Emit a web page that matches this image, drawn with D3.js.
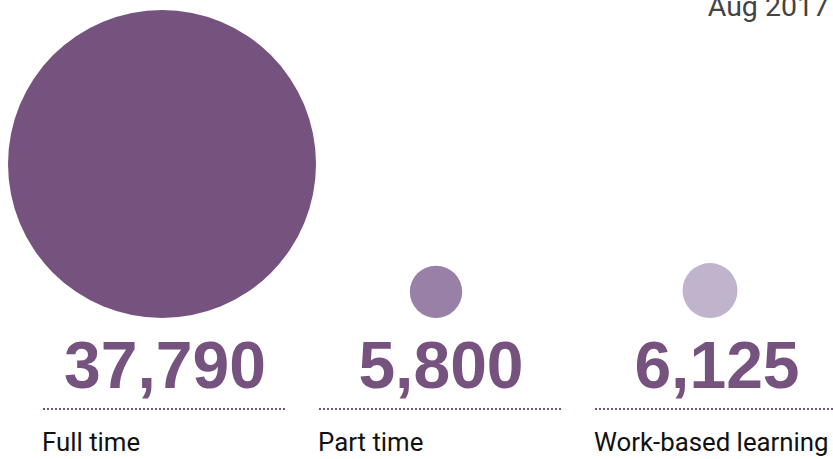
<!DOCTYPE html>
<html>
<head>
<meta charset="utf-8">
<script src="https://cdn.jsdelivr.net/npm/d3@7"></script>
<style>
  html, body { margin: 0; padding: 0; background: #fff; overflow: hidden; }
  svg { display: block; }
</style>
</head>
<body>
<svg id="chart" width="833" height="459"></svg>
<script>
const categories = ["Full time", "Part time", "Work-based learning"];
const values = [37790, 5800, 6125];
const colors = ["#76527f", "#9880a6", "#c0b3cc"];
const dateLabel = "Aug 2017";

const W = 833, H = 459;
const svg = d3.select("#chart");

const x = d3.scalePoint().domain(categories).range([42, 594]);
const xc = d3.scalePoint().domain(categories).range([162, 710]);
const r = d3.scaleLinear().domain([0, d3.max(values)]).range([3, 154]);
const colW = 245;
const circleBase = 318;
const fmt = d3.format(",");

const data = categories.map((c, i) => ({ c, v: values[i], col: colors[i] }));

svg.append("text")
  .attr("x", 829).attr("y", 16)
  .attr("text-anchor", "end")
  .attr("font-family", "Roboto, sans-serif")
  .attr("font-size", 28.5)
  .attr("fill", "#444")
  .text(dateLabel);

svg.selectAll("circle.bubble").data(data).join("circle")
  .attr("class", "bubble")
  .attr("cx", d => xc(d.c))
  .attr("cy", d => circleBase - r(d.v))
  .attr("r", d => r(d.v))
  .attr("fill", d => d.col);

const g = svg.selectAll("g.item").data(data).join("g").attr("class", "item")
  .attr("transform", d => `translate(${x(d.c)},0)`);

g.append("text")
  .attr("x", colW / 2 + 0.5)
  .attr("y", 388)
  .attr("text-anchor", "middle")
  .attr("font-family", "'Liberation Sans', Arial, sans-serif")
  .attr("font-weight", "bold")
  .attr("font-size", 66)
  .attr("fill", "#76527f")
  .text(d => fmt(d.v));

g.append("line")
  .attr("x1", 1).attr("x2", colW)
  .attr("y1", 409).attr("y2", 409)
  .attr("stroke", "#76527f")
  .attr("stroke-width", 2)
  .attr("stroke-dasharray", "2,2");

g.append("text")
  .attr("x", 0)
  .attr("y", 451)
  .attr("font-family", "Roboto, sans-serif")
  .attr("font-size", 25.8)
  .attr("fill", "#111")
  .text(d => d.c);
</script>
</body>
</html>
